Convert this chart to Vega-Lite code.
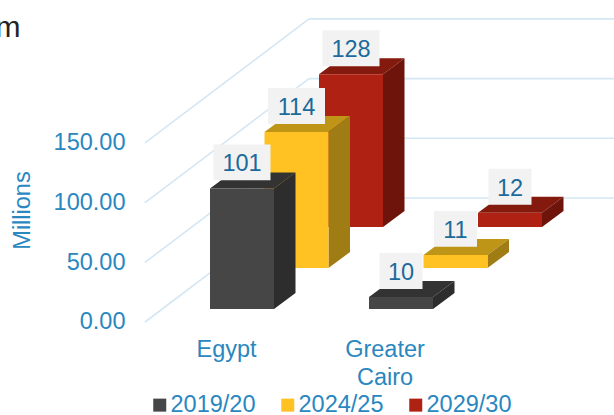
{
"$schema":"https://vega.github.io/schema/vega-lite/v6.json",
"width":488,"height":415,"padding":{"left":126,"top":0,"right":0,"bottom":0},"autosize":{"type":"none"},
"background":"white",
"config":{"view":{"stroke":null},"font":"Liberation Sans"},
"data":{"values":[
{"region":"Egypt","period":"2019/20","value":101},
{"region":"Egypt","period":"2024/25","value":114},
{"region":"Egypt","period":"2029/30","value":128},
{"region":"Greater Cairo","period":"2019/20","value":10},
{"region":"Greater Cairo","period":"2024/25","value":11},
{"region":"Greater Cairo","period":"2029/30","value":12}
]},
"transform":[
{"calculate":"indexof(['2019/20','2024/25','2029/30'],datum.period)","as":"s"},
{"calculate":"indexof(['Egypt','Greater Cairo'],datum.region)","as":"r"},
{"calculate":"210+159*datum.r+54.5*datum.s","as":"xl"},
{"calculate":"datum.xl+64","as":"xr"},
{"calculate":"10.9+34.3*datum.s","as":"base"},
{"calculate":"datum.base+datum.value","as":"top"},
{"calculate":"[0,1]","as":"d"},
{"flatten":["d"]},
{"calculate":"datum.xl+datum.d*21.5","as":"tx1"},
{"calculate":"datum.xr+datum.d*21.5","as":"tx2"},
{"calculate":"datum.top+datum.d*13.4","as":"ty"},
{"calculate":"datum.base+datum.d*13.4","as":"sy"},
{"calculate":"datum.xl+32","as":"cx"},
{"calculate":"datum.cx-(datum.value>=100?28.5:21.5)","as":"bx1"},
{"calculate":"datum.cx+(datum.value>=100?28.5:21.5)","as":"bx2"},
{"calculate":"datum.top+21.8","as":"cy"},
{"calculate":"datum.cy-15.07","as":"by1"},
{"calculate":"datum.cy+15.07","as":"by2"}
],
"encoding":{"y":{"type":"quantitative","axis":{"title":"Millions","titleFont":"Liberation Sans","titleFontSize":23.5,"titleFontWeight":"normal","titleColor":"#2A87BF","titleAngle":-90,"titleX":-104,"titleY":210,"titleAlign":"center","titleBaseline":"middle","values":[0,50,100,150],"format":".2f","domain":false,"ticks":false,"grid":false,"labelPadding":1,"labelFont":"Liberation Sans","labelFontSize":23.5,"labelColor":"#2A87BF"},"scale":{"domain":[-77.9,269.7],"nice":false,"zero":false}}},
"layer":[
{"data":{"values":[{"tick":0},{"tick":50},{"tick":100},{"tick":150}]},
 "transform":[{"calculate":"datum.tick+103.85","as":"back"}],
 "mark":{"type":"rule","color":"#D3E7F5","strokeWidth":1.6},
 "encoding":{"x":{"datum":145,"type":"quantitative","scale":{"domain":[126,614],"nice":false,"zero":false},"axis":null},"x2":{"datum":309},
 "y":{"field":"tick","type":"quantitative"},
 "y2":{"field":"back"}}},
{"data":{"values":[{"tick":0},{"tick":50},{"tick":100},{"tick":150}]},
 "transform":[{"calculate":"datum.tick+103.85","as":"back"}],
 "mark":{"type":"rule","color":"#D3E7F5","strokeWidth":1.6},
 "encoding":{"x":{"datum":309,"type":"quantitative","axis":null},"x2":{"datum":614},
 "y":{"field":"back","type":"quantitative"}}},

{"transform":[{"filter":"datum.s==2"}],"mark":{"type":"area","orient":"horizontal","color":"#841A0E"},
 "encoding":{"y":{"field":"ty","type":"quantitative"},"x":{"field":"tx1","type":"quantitative","axis":null},"x2":{"field":"tx2"},"detail":{"field":"region"}}},
{"transform":[{"filter":"datum.s==2"}],"mark":{"type":"area","orient":"vertical","color":"#6E140A"},
 "encoding":{"x":{"field":"tx2","type":"quantitative","axis":null},"y":{"field":"sy","type":"quantitative"},"y2":{"field":"ty"},"detail":{"field":"region"}}},
{"transform":[{"filter":"datum.s==2 && datum.d==0"}],"mark":{"type":"rect"},
 "encoding":{"x":{"field":"xl","type":"quantitative","axis":null},"x2":{"field":"xr"},"y":{"field":"base","type":"quantitative"},"y2":{"field":"top"},
 "color":{"field":"period","type":"nominal","scale":{"domain":["2019/20","2024/25","2029/30"],"range":["#464646","#FFC222","#AF2213"]},
  "legend":{"title":null,"orient":"none","legendX":22,"legendY":393,"direction":"horizontal","columns":3,"symbolType":"square","symbolSize":169,"symbolStrokeWidth":0,"labelFont":"Liberation Sans","labelFontSize":23.5,"labelColor":"#2A87BF","labelOffset":-1,"columnPadding":20,"padding":0}}}},

{"transform":[{"filter":"datum.s==1"}],"mark":{"type":"area","orient":"horizontal","color":"#BF9518"},
 "encoding":{"y":{"field":"ty","type":"quantitative"},"x":{"field":"tx1","type":"quantitative","axis":null},"x2":{"field":"tx2"},"detail":{"field":"region"}}},
{"transform":[{"filter":"datum.s==1"}],"mark":{"type":"area","orient":"vertical","color":"#A07C14"},
 "encoding":{"x":{"field":"tx2","type":"quantitative","axis":null},"y":{"field":"sy","type":"quantitative"},"y2":{"field":"ty"},"detail":{"field":"region"}}},
{"transform":[{"filter":"datum.s==1 && datum.d==0"}],"mark":{"type":"rect"},
 "encoding":{"x":{"field":"xl","type":"quantitative","axis":null},"x2":{"field":"xr"},"y":{"field":"base","type":"quantitative"},"y2":{"field":"top"},
 "color":{"field":"period","type":"nominal","title":null}}},

{"transform":[{"filter":"datum.s==0"}],"mark":{"type":"area","orient":"horizontal","color":"#333333"},
 "encoding":{"y":{"field":"ty","type":"quantitative"},"x":{"field":"tx1","type":"quantitative","axis":null},"x2":{"field":"tx2"},"detail":{"field":"region"}}},
{"transform":[{"filter":"datum.s==0"}],"mark":{"type":"area","orient":"vertical","color":"#2D2D2D"},
 "encoding":{"x":{"field":"tx2","type":"quantitative","axis":null},"y":{"field":"sy","type":"quantitative"},"y2":{"field":"ty"},"detail":{"field":"region"}}},
{"transform":[{"filter":"datum.s==0 && datum.d==0"}],"mark":{"type":"rect"},
 "encoding":{"x":{"field":"xl","type":"quantitative","axis":null},"x2":{"field":"xr"},"y":{"field":"base","type":"quantitative"},"y2":{"field":"top"},
 "color":{"field":"period","type":"nominal","title":null}}},

{"transform":[{"filter":"datum.d==0"}],"mark":{"type":"rect","color":"#F2F2F2"},
 "encoding":{"x":{"field":"bx1","type":"quantitative","axis":null},"x2":{"field":"bx2"},"y":{"field":"by1","type":"quantitative"},"y2":{"field":"by2"}}},
{"transform":[{"filter":"datum.d==0"}],"mark":{"type":"text","font":"Liberation Sans","fontSize":23.5,"color":"#1B6A9C","baseline":"middle","align":"center","dy":2},
 "encoding":{"x":{"field":"cx","type":"quantitative","axis":null},"y":{"field":"cy","type":"quantitative"},"text":{"field":"value","type":"quantitative"}}},

{"data":{"values":[{"region":"Egypt","r":0},{"region":"Greater Cairo","r":1}]},
 "transform":[{"calculate":"226.5+158.5*datum.r","as":"lx"},{"calculate":"-29.3","as":"ly"}],
 "mark":{"type":"text","font":"Liberation Sans","fontSize":23.5,"color":"#2A87BF","align":"center","baseline":"alphabetic","lineBreak":" ","lineHeight":28},
 "encoding":{"x":{"field":"lx","type":"quantitative","axis":null},"y":{"field":"ly","type":"quantitative"},"text":{"field":"region","type":"nominal"}}},
{"data":{"values":[{"heading":"m","hx":20.5,"hy":238.7}]},
 "mark":{"type":"text","font":"Liberation Sans","fontSize":30,"color":"#222222","align":"right","baseline":"alphabetic"},
 "encoding":{"x":{"field":"hx","type":"quantitative","axis":null},"y":{"field":"hy","type":"quantitative"},"text":{"field":"heading","type":"nominal"}}}
]
}
